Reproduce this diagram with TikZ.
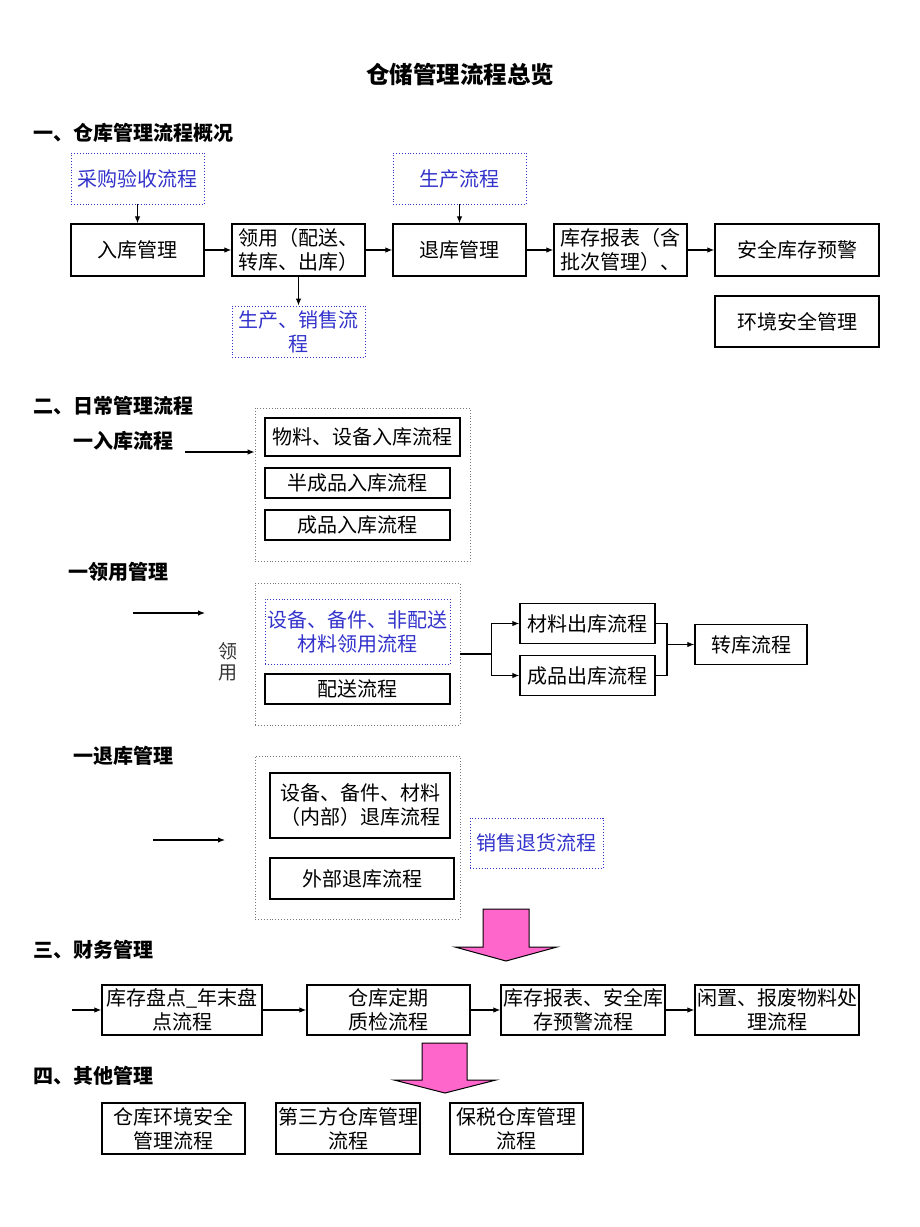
\documentclass[tikz,border=0pt]{standalone}
\usepackage{fontspec}
\setmainfont{Noto Sans CJK SC}
\usetikzlibrary{arrows.meta}
\definecolor{lblue}{RGB}{51,51,204}
\definecolor{pinkfill}{RGB}{255,102,204}
\definecolor{dotgray}{RGB}{120,120,120}
\begin{document}
\begin{tikzpicture}[x=1pt,y=-1pt,
  every node/.style={inner sep=0pt, font=\fontsize{20}{24}\selectfont},
  box/.style={draw=black, line width=1.3pt, align=center, fill=white},
  bluebox/.style={draw=lblue, dotted, line width=0.9pt, align=center, text=lblue},
  groupbox/.style={draw=dotgray, dotted, line width=0.9pt},
  head/.style={anchor=west, font=\fontsize{20}{24}\selectfont\bfseries},
  arr/.style={line width=1.1pt, -{Latex[length=7pt,width=5.5pt]}},
  ln/.style={line width=1.1pt},
  bigarrow/.style={fill=pinkfill, draw=black, line width=1pt}]
\useasboundingbox (0,0) rectangle (920,1227);

% title
\node[font=\fontsize{23.5}{28}\selectfont\bfseries] (title) at (460,74) {仓储管理流程总览};

% Section 1
\node[head] (h1) at (33,133) {一、仓库管理流程概况};
\node[bluebox, minimum width=133, minimum height=51] (cg) at (137.5,178.5) {采购验收流程};
\node[bluebox, minimum width=133, minimum height=51] (sc) at (459.5,178.5) {生产流程};
\node[box, minimum width=133, minimum height=52] (rk) at (137.5,250) {入库管理};
\node[box, minimum width=133, minimum height=52, align=left] (ly) at (298.5,250) {领用（配送、\\转库、出库）};
\node[box, minimum width=133, minimum height=52] (tk) at (459.5,250) {退库管理};
\node[box, minimum width=133, minimum height=52, align=left] (kc) at (620.5,250) {库存报表（含\\批次管理）、};
\node[box, minimum width=164, minimum height=52] (aq) at (797,250) {安全库存预警};
\node[box, minimum width=164, minimum height=51] (hj) at (797,321.5) {环境安全管理};
\node[bluebox, minimum width=133, minimum height=51] (sx) at (298.5,331.5) {生产、销售流\\程};
\draw[arr] (cg) -- (rk);
\draw[arr] (sc) -- (tk);
\draw[arr] (rk) -- (ly);
\draw[arr] (ly) -- (tk);
\draw[arr] (tk) -- (kc);
\draw[arr] (kc) -- (aq);
\draw[arr] (ly) -- (sx);

% Section 2
\node[head] (h2) at (33,406) {二、日常管理流程};
\node[head] (h21) at (73,441) {一入库流程};
\node[groupbox, minimum width=215, minimum height=153] (g1) at (362.5,484.5) {};
\node[box, minimum width=195, minimum height=38] (wl) at (362.5,437) {物料、设备入库流程};
\node[box, minimum width=185, minimum height=30] (bc) at (357.5,483) {半成品入库流程};
\node[box, minimum width=185, minimum height=30] (cp1) at (357.5,525) {成品入库流程};
\coordinate (a1) at (185,452);
\draw[arr] (a1) -- (a1 -| g1.west);

\node[head] (h22) at (68,572) {一领用管理};
\coordinate (a2s) at (133,613);
\coordinate (a2e) at (205,613);
\draw[arr] (a2s) -- (a2e);
\node[text=black!80, font=\fontsize{19}{21}\selectfont, align=center] (lyv) at (228,662) {领\\用};
\node[groupbox, minimum width=205, minimum height=142] (g2) at (357.5,654) {};
\node[bluebox, minimum width=185, minimum height=65] (sb) at (357.5,631.5) {设备、备件、非配送\\材料领用流程};
\node[box, minimum width=185, minimum height=30] (ps) at (357.5,689) {配送流程};
\node[box, minimum width=135, minimum height=40] (cl) at (587.5,623.5) {材料出库流程};
\node[box, minimum width=135, minimum height=40] (cpc) at (587.5,675.5) {成品出库流程};
\node[box, minimum width=112, minimum height=40] (zk) at (751,644.5) {转库流程};
\draw[ln] (g2.east) -- ++(31,0) coordinate (br);
\draw[arr] (br) |- (cl.west);
\draw[arr] (br) |- (cpc.west);
\coordinate (mj) at (667,644.5);
\draw[ln] (cl.east) -| (mj);
\draw[ln] (cpc.east) -| (mj);
\draw[arr] (mj) -- (zk);

\node[head] (h23) at (73,756) {一退库管理};
\coordinate (a3s) at (153,840);
\coordinate (a3e) at (225,840);
\draw[arr] (a3s) -- (a3e);
\node[groupbox, minimum width=205, minimum height=163] (g3) at (357.5,837.5) {};
\node[box, minimum width=180, minimum height=65] (nb) at (360,805.5) {设备、备件、材料\\（内部）退库流程};
\node[box, minimum width=184, minimum height=41] (wb) at (362,878.5) {外部退库流程};
\node[bluebox, minimum width=133, minimum height=50] (xs) at (536.5,843) {销售退货流程};

% big arrow 1
\draw[bigarrow] (483,909) -- (529,909) -- (529,947) -- (557,947) -- (506,961) -- (455,947) -- (483,947) -- cycle;

% Section 3
\node[head] (h3) at (33,950) {三、财务管理};
\node[box, minimum width=160, minimum height=50] (c1) at (182,1010) {库存盘点\_年末盘\\点流程};
\node[box, minimum width=163, minimum height=50] (c2) at (388.5,1010) {仓库定期\\质检流程};
\node[box, minimum width=164, minimum height=50] (c3) at (583,1010) {库存报表、安全库\\存预警流程};
\node[box, minimum width=164, minimum height=50] (c4) at (777,1010) {闲置、报废物料处\\理流程};
\coordinate (a4) at (72,1010);
\draw[arr] (a4) -- (c1);
\draw[arr] (c1) -- (c2);
\draw[arr] (c2) -- (c3);
\draw[arr] (c3) -- (c4);

% big arrow 2
\draw[bigarrow] (422,1043) -- (467,1043) -- (467,1080) -- (496,1080) -- (445,1093) -- (394,1080) -- (422,1080) -- cycle;

% Section 4
\node[head] (h4) at (33,1076) {四、其他管理};
\node[box, minimum width=143, minimum height=51] (d1) at (173.5,1128.5) {仓库环境安全\\管理流程};
\node[box, minimum width=144, minimum height=51] (d2) at (348,1128.5) {第三方仓库管理\\流程};
\node[box, minimum width=133, minimum height=51] (d3) at (516.5,1128.5) {保税仓库管理\\流程};
\end{tikzpicture}
\end{document}
